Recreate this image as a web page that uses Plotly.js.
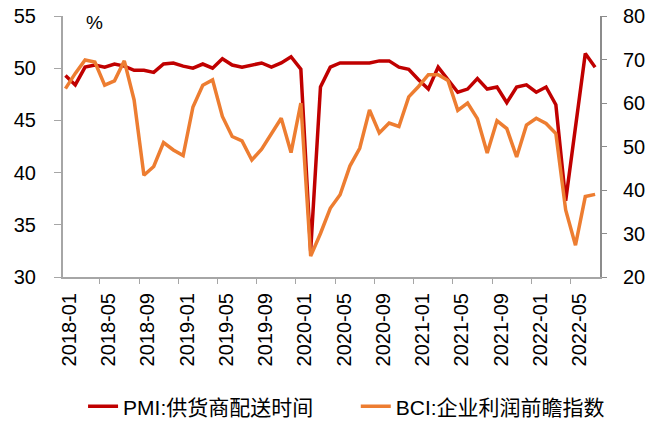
<!DOCTYPE html>
<html>
<head>
<meta charset="utf-8">
<script src="https://cdn.plot.ly/plotly-3.0.1.min.js"></script>
<style>
  html, body { margin: 0; padding: 0; background: #fff; }
  #chart { width: 654px; height: 421px; }
</style>
</head>
<body>
<div id="chart"></div>
<script>
// months 2018-01 .. 2022-07
const months = [];
for (let y = 2018; y <= 2022; y++) {
    for (let m = 1; m <= 12; m++) {
        if (y === 2022 && m > 7) break;
        months.push(y + "-" + String(m).padStart(2, "0"));
    }
}

// PMI: supplier delivery time (left axis)
const pmiDelivery = [
    49.3, 48.4, 50.1, 50.3, 50.1, 50.4, 50.2, 49.8, 49.8, 49.6, 50.4, 50.5,
    50.2, 50.0, 50.4, 50.0, 50.9, 50.3, 50.1, 50.3, 50.5, 50.1, 50.5, 51.1,
    49.9, 32.5, 48.2, 50.1, 50.5, 50.5, 50.5, 50.5, 50.7, 50.7, 50.1, 49.9,
    48.9, 48.0, 50.1, 48.9, 47.7, 48.0, 49.0, 48.0, 48.2, 46.7, 48.2, 48.4,
    47.7, 48.2, 46.5, 37.3, 44.3, 51.4, 50.1
];

// BCI: profit outlook index (right axis)
const bciProfit = [
    63.3, 66.8, 69.9, 69.4, 64.1, 65.1, 69.7, 60.7, 43.4, 45.4, 50.9, 49.2,
    47.9, 59.1, 64.1, 65.3, 56.9, 52.3, 51.3, 46.9, 49.4, 52.8, 56.5, 48.6,
    60.0, 24.8, 30.0, 35.8, 38.9, 45.5, 49.6, 58.4, 53.1, 55.4, 54.6, 61.4,
    63.8, 66.5, 66.5, 65.2, 58.3, 60.0, 56.4, 48.5, 55.9, 54.1, 47.6, 54.9,
    56.5, 55.3, 53.0, 35.4, 27.3, 38.5, 39.0
];

const seriesNames = ["PMI:供货商配送时间", "BCI:企业利润前瞻指数"];
const leftTicks = [30, 35, 40, 45, 50, 55];
const rightTicks = [20, 30, 40, 50, 60, 70, 80];

const FONT = "Liberation Sans, Arial, Noto Sans CJK SC, sans-serif";

const traces = [
    {
        x: months, y: pmiDelivery, name: seriesNames[0],
        type: "scatter", mode: "lines",
        line: { color: "#C00000", width: 3.5 },
        yaxis: "y", legend: "legend"
    },
    {
        x: months, y: bciProfit, name: seriesNames[1],
        type: "scatter", mode: "lines",
        line: { color: "#ED7D31", width: 3.5 },
        yaxis: "y2", legend: "legend2"
    }
];

// one legend box per series so they sit side by side without wrapping
function legendAt(x) {
    return {
        orientation: "h",
        xref: "container", yref: "container",
        x: x, xanchor: "left",
        y: 0.034, yanchor: "middle",
        font: { size: 21, family: FONT },
        bgcolor: "rgba(0,0,0,0)"
    };
}

const layout = {
    width: 654,
    height: 421,
    margin: { l: 63, r: 54, t: 16, b: 144, autoexpand: false },
    paper_bgcolor: "#fff",
    plot_bgcolor: "#fff",
    font: { family: FONT, size: 20, color: "#000" },
    showlegend: true,
    xaxis: {
        type: "category",
        automargin: false,
        range: [-0.25, 54.5],
        tickmode: "linear", tick0: 0, dtick: 4,
        tickson: "boundaries",
        tickangle: -90,
        ticks: "outside", ticklen: 5, tickcolor: "#A6A6A6",
        ticklabelshift: 4,
        ticklabelstandoff: 6,
        showline: true, linecolor: "#A6A6A6", linewidth: 2,
        showgrid: false, zeroline: false,
        tickfont: { size: 20, family: FONT }
    },
    yaxis: {
        automargin: false,
        range: [30, 55],
        tickmode: "array", tickvals: leftTicks,
        ticks: "outside", ticklen: 7, tickcolor: "#A6A6A6",
        ticklabelstandoff: 14,
        showline: true, linecolor: "#A6A6A6", linewidth: 2,
        showgrid: false, zeroline: false,
        tickfont: { size: 20, family: FONT }
    },
    yaxis2: {
        automargin: false,
        overlaying: "y", side: "right",
        range: [20, 80],
        tickmode: "array", tickvals: rightTicks,
        ticks: "outside", ticklen: 5, tickcolor: "#8C8C8C",
        ticklabelstandoff: 12,
        showline: true, linecolor: "#8C8C8C", linewidth: 2,
        showgrid: false, zeroline: false,
        tickfont: { size: 20, family: FONT }
    },
    legend: legendAt(0.127),
    legend2: legendAt(0.544),
    annotations: [{
        text: "%", xref: "paper", yref: "paper",
        x: 0.058, y: 0.977, xanchor: "center", yanchor: "middle",
        showarrow: false,
        font: { size: 19, family: FONT, color: "#000" }
    }]
};

Plotly.newPlot("chart", traces, layout, { displayModeBar: false, staticPlot: true });
</script>
</body>
</html>
